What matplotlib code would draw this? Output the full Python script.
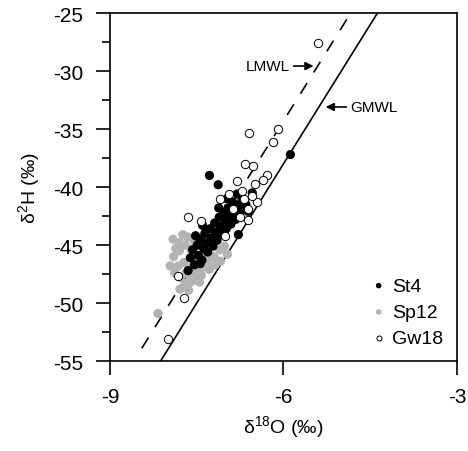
import numpy as np
import matplotlib
matplotlib.use("Agg")
import matplotlib.pyplot as plt

plt.rcParams['font.family'] = ['Liberation Sans', 'DejaVu Sans']
plt.rcParams['mathtext.fontset'] = 'custom'
plt.rcParams['mathtext.rm'] = 'Liberation Sans'
plt.rcParams['axes.unicode_minus'] = False

# St4 (black)
st4_x = [-5.88, -7.28, -7.13, -6.80, -6.54, -6.78, -7.65, -7.44,
         -7.61, -7.57, -7.54, -7.49, -7.47, -7.44, -7.41, -7.38, -7.36,
         -7.33, -7.31, -7.27, -7.25, -7.22, -7.19, -7.17, -7.15, -7.11,
         -7.09, -7.06, -7.03, -7.01, -6.99, -6.96, -6.93, -6.91, -6.88,
         -6.85, -6.83, -6.79, -6.77, -6.72, -6.70, -6.65, -6.61, -7.52,
         -7.40, -6.98, -7.12]
st4_y = [-37.2, -39.0, -39.8, -40.6, -40.5, -44.1, -47.2, -46.6,
         -46.1, -45.4, -46.7, -45.0, -45.9, -44.5, -46.3, -45.3, -44.0,
         -44.8, -45.6, -43.6, -44.4, -45.1, -43.1, -43.9, -44.6, -42.6,
         -43.4, -44.1, -42.2, -42.9, -43.6, -41.8, -42.5, -43.2, -41.3,
         -42.1, -42.8, -41.6, -42.3, -41.2, -41.9, -41.5, -42.1, -44.2,
         -43.3, -41.0, -41.8]

# Sp12 (grey)
sp12_x = [-7.96, -7.79, -7.61, -7.73, -8.17, -7.91, -7.66, -7.32, -7.09, -6.97,
          -7.90, -7.88, -7.80, -7.82, -7.78, -7.70, -7.72, -7.68, -7.70, -7.60,
          -7.58, -7.62, -7.50, -7.48, -7.52, -7.40, -7.42, -7.38, -7.30, -7.28,
          -7.20, -7.18, -7.10, -7.02, -7.80, -7.74, -7.86, -7.55, -7.64, -7.56,
          -7.45]
sp12_y = [-46.8, -48.8, -48.2, -48.6, -50.9, -44.5, -44.3, -45.8, -46.4, -45.8,
          -46.0, -47.4, -45.5, -46.8, -47.8, -45.0, -46.5, -47.4, -48.3, -45.4,
          -46.9, -47.7, -46.4, -47.3, -48.0, -46.9, -47.6, -45.9, -46.5, -47.1,
          -46.0, -46.7, -45.4, -45.1, -44.8, -44.1, -45.3, -44.6, -48.9, -47.5,
          -48.2]

# Gw18 (open)
gw18_x = [-5.41, -6.10, -6.59, -6.19, -6.66, -6.52, -6.28, -6.36, -6.49, -6.80,
          -6.95, -6.69, -6.45, -6.62, -6.61, -6.75, -7.65, -7.42, -7.01, -7.82,
          -7.72, -8.00, -6.88, -7.09, -6.72, -6.55]
gw18_y = [-27.6, -35.0, -35.3, -36.1, -38.0, -38.2, -39.0, -39.4, -39.7, -39.5,
          -40.6, -41.0, -41.3, -41.9, -42.8, -42.6, -42.6, -42.9, -44.2, -47.7,
          -49.6, -53.1, -41.9, -41.0, -40.3, -40.8]

# meteoric water lines: slope, intercept
gmwl = (8.0, 10.0)
lmwl = (8.0, 13.7)

fig = plt.figure(figsize=(4.68, 4.52), dpi=100)
ax = fig.add_axes([0.235, 0.199, 0.7415, 0.770])

xg = np.array([-9.0, -3.0])
ax.plot(xg, gmwl[0] * xg + gmwl[1], color='black', lw=1.2, zorder=1)
xl = np.array([-8.45, -3.0])
ax.plot(xl, lmwl[0] * xl + lmwl[1], color='black', lw=1.2,
        linestyle=(0, (7.5, 7.5)), zorder=1)

ax.scatter(sp12_x, sp12_y, s=44, color='#b3b3b3', edgecolors='none', label='Sp12', zorder=2)
ax.scatter(st4_x, st4_y, s=44, color='black', edgecolors='none', label='St4', zorder=3)
ax.scatter(gw18_x, gw18_y, s=36, facecolors='white', edgecolors='black',
           linewidths=0.7, label='Gw18', zorder=4)

ax.annotate('LMWL', xy=(-5.48, -29.57), xytext=(-6.66, -29.57),
            fontsize=11, va='center', ha='left',
            arrowprops=dict(arrowstyle='-|>', color='black', lw=1.2,
                            mutation_scale=12, shrinkA=1, shrinkB=0))
ax.annotate('GMWL', xy=(-5.27, -33.1), xytext=(-4.84, -33.1),
            fontsize=11, va='center', ha='left',
            arrowprops=dict(arrowstyle='-|>', color='black', lw=1.2,
                            mutation_scale=12, shrinkA=1, shrinkB=0))

ax.set_xlim(-9, -3)
ax.set_ylim(-55, -25)
ax.set_xticks([-9, -6, -3])
ax.set_yticks(np.arange(-55, -24, 5))
ax.set_yticks(np.arange(-52.5, -25, 5), minor=True)
ax.tick_params(which='major', direction='out', length=10, width=1.2,
               labelsize=15, pad=9)
ax.tick_params(which='minor', direction='out', length=6, width=1.2)
for sp in ax.spines.values():
    sp.set_linewidth(1.2)

ax.set_xlabel(r'δ$\mathregular{^{18}}$O (‰)', fontsize=14, labelpad=5)
ax.set_ylabel(r'δ$\mathregular{^{2}}$H (‰)', fontsize=14, labelpad=8)

h, l = ax.get_legend_handles_labels()
order = [1, 0, 2]
ax.legend([h[i] for i in order], [l[i] for i in order], loc='lower right',
          frameon=False, fontsize=14, markerscale=0.6, handletextpad=0.1,
          labelspacing=0.45, borderaxespad=0.3, handlelength=1.2)

fig.savefig('out.png', dpi=100)
